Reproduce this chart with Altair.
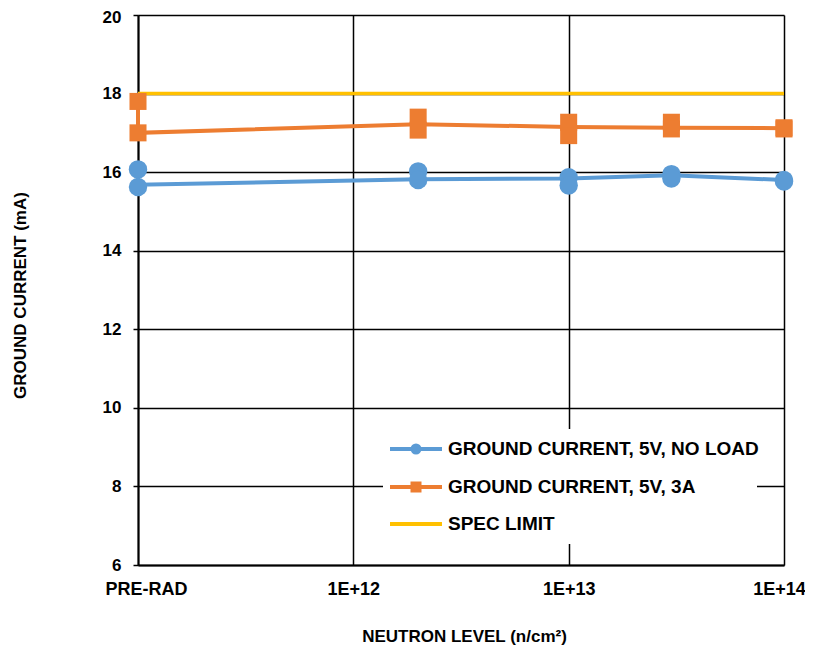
import altair as alt
import pandas as pd

# ---- data ----
x_tick_values = [1e11, 1e12, 1e13, 1e14]
x_tick_labels = ["PRE-RAD", "1E+12", "1E+13", "1E+14"]
y_ticks = [6, 8, 10, 12, 14, 16, 18, 20]

line_x = [1e11, 1e11, 2e12, 1e13, 3e13, 1e14]
noload_line_y = [16.07, 15.68, 15.82, 15.84, 15.92, 15.80]
load3a_line_y = [17.80, 17.00, 17.22, 17.15, 17.13, 17.12]

pts_x = [1e11, 1e11, 2e12, 2e12, 1e13, 1e13, 3e13, 3e13, 1e14, 1e14]
noload_pts_y = [16.07, 15.62, 16.02, 15.80, 15.87, 15.66, 15.95, 15.84, 15.80, 15.76]
load3a_pts_y = [17.80, 17.00, 17.40, 17.07, 17.27, 16.93, 17.27, 17.10, 17.13, 17.10]

spec_x = [1e11, 1e14]
spec_y = [18, 18]

legend_labels = ["GROUND CURRENT, 5V, NO LOAD", "GROUND CURRENT, 5V, 3A", "SPEC LIMIT"]
legend_colors = ["#5B9BD5", "#ED7D31", "#FFC000"]
legend_shapes = ["circle", "square", None]

BLUE, ORANGE, YELLOW = legend_colors
FONT = "Liberation Sans"

label_array = "[" + ",".join("'%s'" % s for s in x_tick_labels) + "]"

xscale = alt.Scale(type="log", domain=[1e11, 1e14], nice=False)
yscale = alt.Scale(domain=[6, 20], nice=False, zero=False)

xaxis = alt.Axis(
    values=x_tick_values,
    labelExpr=label_array + "[round(log(datum.value)/LN10)-11]",
    grid=True, gridColor="#000000", gridWidth=1.5, gridOpacity=1,
    ticks=False, domainColor="#000000", domainWidth=2,
    labelFont=FONT, labelFontSize=18, labelFontWeight="bold", labelColor="#000000",
    labelPadding=15, labelFlush=False, labelOverlap=False, labelBound=False,
    labelOffset={"condition": [{"test": "datum.value < 5e11", "value": 8},
                               {"test": "datum.value > 5e13", "value": -5}],
                 "value": 0},
    title="NEUTRON LEVEL (n/cm²)", titleFont=FONT, titleFontSize=17,
    titleFontWeight="bold", titleColor="#000000",
    titleX=326, titleY=71, titleBaseline="middle", titleAlign="center",
)
yaxis = alt.Axis(
    values=y_ticks, format="d",
    grid=True, gridColor="#000000", gridWidth=1.5, gridOpacity=1,
    ticks=True, tickSize=5, tickColor="#000000", tickWidth=1.5,
    domainColor="#000000", domainWidth=2,
    labelFont=FONT, labelFontSize=17, labelFontWeight="bold", labelColor="#000000",
    labelPadding=12, labelOverlap=False, labelFlush=False, labelBound=False,
    labelOffset={"condition": {"test": "datum.value > 19", "value": 2}, "value": 0},
    title="GROUND CURRENT (mA)", titleFont=FONT, titleFontSize=17,
    titleFontWeight="bold", titleColor="#000000",
    titleX=-118, titleY=280, titleBaseline="middle", titleAlign="center",
)

X = lambda: alt.X("x:Q", scale=xscale, axis=xaxis)
Y = lambda: alt.Y("y:Q", scale=yscale, axis=yaxis)

spec_df = pd.DataFrame({"x": spec_x, "y": spec_y, "i": range(len(spec_x))})
nl_line_df = pd.DataFrame({"x": line_x, "y": noload_line_y, "i": range(len(line_x))})
la_line_df = pd.DataFrame({"x": line_x, "y": load3a_line_y, "i": range(len(line_x))})
nl_pts_df = pd.DataFrame({"x": pts_x, "y": noload_pts_y})
la_pts_df = pd.DataFrame({"x": pts_x, "y": load3a_pts_y})

spec = alt.Chart(spec_df).mark_line(color=YELLOW, strokeWidth=3.5).encode(
    x=X(), y=Y(), order="i:Q")
nl_line = alt.Chart(nl_line_df).mark_line(color=BLUE, strokeWidth=4).encode(
    x=X(), y=Y(), order="i:Q")
la_line = alt.Chart(la_line_df).mark_line(color=ORANGE, strokeWidth=4).encode(
    x=X(), y=Y(), order="i:Q")
nl_pts = alt.Chart(nl_pts_df).mark_point(
    shape="circle", filled=True, size=340, color=BLUE, opacity=1).encode(x=X(), y=Y())
la_pts = alt.Chart(la_pts_df).mark_point(
    shape="square", filled=True, size=290, color=ORANGE, opacity=1).encode(x=X(), y=Y())

# ---- manual legend (pixel positions inside the plot area) ----
one = pd.DataFrame({"k": [0]})
legend_layers = [
    alt.Chart(one).mark_rect(color="#FFFFFF", opacity=1).encode(
        x=alt.value(245), x2=alt.value(619), y=alt.value(414), y2=alt.value(529))
]
row_y = [434, 472, 509]
for lab, col, shp, yy in zip(legend_labels, legend_colors, legend_shapes, row_y):
    legend_layers.append(
        alt.Chart(one).mark_rule(color=col, strokeWidth=4).encode(
            x=alt.value(252), x2=alt.value(304), y=alt.value(yy)))
    if shp:
        legend_layers.append(
            alt.Chart(one).mark_point(shape=shp, filled=True, size=121, color=col, opacity=1).encode(
                x=alt.value(278), y=alt.value(yy)))
    legend_layers.append(
        alt.Chart(one).mark_text(align="left", baseline="middle", font=FONT, fontSize=19,
                                 fontWeight="bold", color="#000000").encode(
            x=alt.value(310), y=alt.value(yy), text=alt.value(lab)))

chart = alt.layer(spec, nl_line, la_line, nl_pts, la_pts, *legend_layers).properties(
    width=646, height=550,
    padding={"left": 130, "top": 7, "right": 21, "bottom": 80},
    autosize=alt.AutoSizeParams(type="none"),
    background="#FFFFFF",
).configure_view(stroke=None)

chart.save("out.html", embed_options={"renderer": "svg", "actions": False})
